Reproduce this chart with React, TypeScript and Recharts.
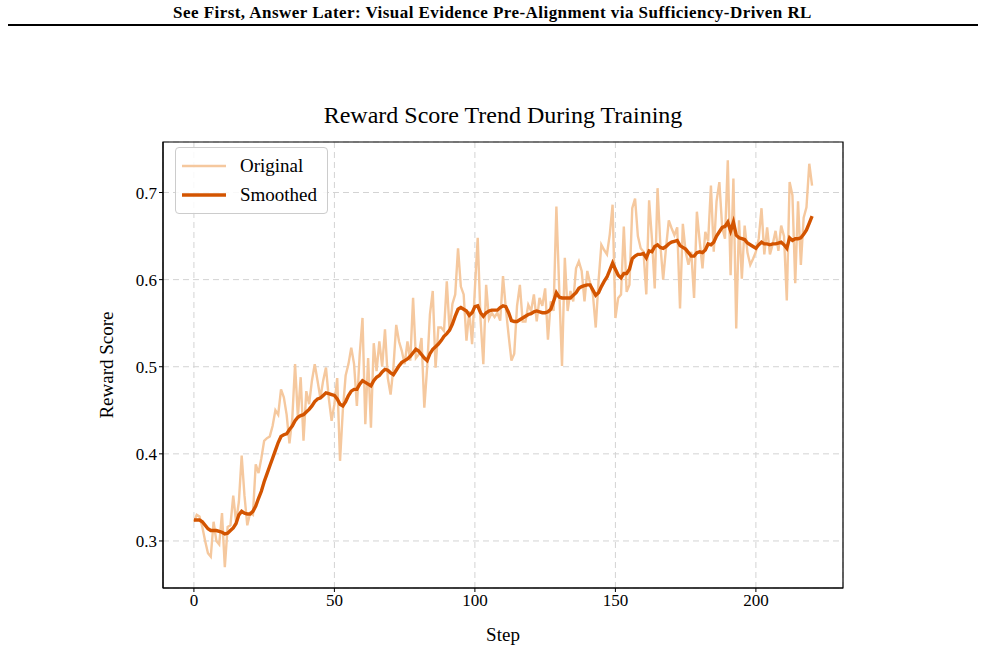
import React from 'react';
import { LineChart, Line, XAxis, YAxis, CartesianGrid, ReferenceArea } from 'recharts';

const pageTitle = 'See First, Answer Later: Visual Evidence Pre-Alignment via Sufficiency-Driven RL';
const chartTitle = 'Reward Score Trend During Training';
const xLabel = 'Step';
const yLabel = 'Reward Score';
const seriesNames = ['Original', 'Smoothed'];
const xTicks = [0, 50, 100, 150, 200];
const yTicks = [0.3, 0.4, 0.5, 0.6, 0.7];

const original = [
  0.322, 0.330, 0.328, 0.316, 0.300, 0.286, 0.282, 0.322, 0.300, 0.296,
  0.332, 0.270, 0.316, 0.318, 0.352, 0.322, 0.345, 0.398, 0.352, 0.318,
  0.332, 0.330, 0.388, 0.378, 0.395, 0.415, 0.418, 0.420, 0.432, 0.450,
  0.445, 0.474, 0.465, 0.445, 0.412, 0.440, 0.503, 0.442, 0.488, 0.415,
  0.472, 0.457, 0.484, 0.503, 0.484, 0.464, 0.484, 0.499, 0.464, 0.438,
  0.457, 0.487, 0.392, 0.450, 0.490, 0.503, 0.522, 0.503, 0.455, 0.514,
  0.556, 0.434, 0.510, 0.430, 0.527, 0.495, 0.529, 0.500, 0.543, 0.487,
  0.468, 0.499, 0.548, 0.529, 0.518, 0.503, 0.529, 0.507, 0.579, 0.510,
  0.514, 0.533, 0.453, 0.499, 0.560, 0.587, 0.499, 0.545, 0.545, 0.541,
  0.598, 0.541, 0.572, 0.583, 0.636, 0.592, 0.583, 0.530, 0.564, 0.526,
  0.590, 0.648, 0.555, 0.503, 0.594, 0.555, 0.562, 0.557, 0.562, 0.553,
  0.604, 0.567, 0.536, 0.507, 0.515, 0.570, 0.594, 0.552, 0.552, 0.571,
  0.564, 0.583, 0.552, 0.579, 0.570, 0.590, 0.531, 0.575, 0.564, 0.684,
  0.590, 0.501, 0.625, 0.564, 0.587, 0.575, 0.613, 0.621, 0.610, 0.575,
  0.610, 0.596, 0.583, 0.545, 0.598, 0.640, 0.634, 0.629, 0.652, 0.686,
  0.556, 0.579, 0.583, 0.661, 0.586, 0.594, 0.682, 0.693, 0.650, 0.636,
  0.632, 0.583, 0.691, 0.647, 0.590, 0.705, 0.640, 0.600, 0.636, 0.668,
  0.659, 0.651, 0.660, 0.567, 0.664, 0.632, 0.617, 0.632, 0.579, 0.678,
  0.644, 0.613, 0.655, 0.644, 0.708, 0.632, 0.690, 0.712, 0.660, 0.647,
  0.737, 0.605, 0.716, 0.544, 0.668, 0.601, 0.662, 0.631, 0.617, 0.624,
  0.632, 0.647, 0.682, 0.629, 0.660, 0.629, 0.641, 0.656, 0.633, 0.662,
  0.650, 0.576, 0.712, 0.697, 0.596, 0.690, 0.617, 0.671, 0.683, 0.733,
  0.708,
];

const smoothed = [
  0.324, 0.324, 0.324, 0.322, 0.318, 0.314, 0.312, 0.312, 0.312, 0.311,
  0.310, 0.308, 0.309, 0.312, 0.315, 0.320, 0.330, 0.334, 0.332, 0.331,
  0.331, 0.334, 0.340, 0.349, 0.357, 0.368, 0.377, 0.386, 0.395, 0.404,
  0.413, 0.420, 0.422, 0.423, 0.428, 0.432, 0.438, 0.442, 0.444, 0.445,
  0.448, 0.451, 0.455, 0.460, 0.463, 0.464, 0.467, 0.470, 0.469, 0.468,
  0.467, 0.463, 0.457, 0.455, 0.460, 0.467, 0.472, 0.474, 0.474, 0.480,
  0.484, 0.482, 0.480, 0.478, 0.484, 0.488, 0.490, 0.494, 0.497, 0.496,
  0.493, 0.491, 0.496, 0.501, 0.505, 0.507, 0.509, 0.512, 0.516, 0.520,
  0.518, 0.514, 0.510, 0.507, 0.515, 0.520, 0.523, 0.526, 0.530, 0.535,
  0.538, 0.542, 0.549, 0.558, 0.566, 0.568, 0.566, 0.564, 0.559, 0.562,
  0.569, 0.570, 0.562, 0.558, 0.562, 0.564, 0.565, 0.565, 0.565, 0.568,
  0.570, 0.569, 0.562, 0.553, 0.552, 0.552, 0.554, 0.556, 0.558, 0.560,
  0.561, 0.563, 0.564, 0.563, 0.562, 0.562, 0.563, 0.566, 0.575, 0.585,
  0.580, 0.579, 0.579, 0.579, 0.579, 0.582, 0.585, 0.590, 0.592, 0.593,
  0.594, 0.594, 0.588, 0.582, 0.585, 0.592, 0.598, 0.603, 0.611, 0.619,
  0.612, 0.605, 0.602, 0.607, 0.607, 0.612, 0.624, 0.627, 0.629, 0.629,
  0.630, 0.625, 0.633, 0.632, 0.638, 0.640, 0.637, 0.636, 0.638, 0.641,
  0.643, 0.644, 0.645, 0.639, 0.637, 0.635, 0.631, 0.627, 0.627, 0.631,
  0.632, 0.631, 0.634, 0.641, 0.640, 0.643, 0.650, 0.655, 0.660, 0.661,
  0.666, 0.656, 0.666, 0.651, 0.648, 0.647, 0.646, 0.642, 0.640, 0.638,
  0.636, 0.640, 0.643, 0.641, 0.641, 0.640, 0.641, 0.641, 0.642, 0.643,
  0.640, 0.636, 0.648, 0.645, 0.647, 0.647, 0.648, 0.652, 0.657, 0.665,
  0.673,
];

const data = original.map((v, i) => ({ step: i, original: v, smoothed: smoothed[i] }));

const SERIF = '"Liberation Serif", "Times New Roman", serif';
const ORIG_COLOR = '#f5c89e';
const SMOOTH_COLOR = '#d35400';
const X_DOMAIN: [number, number] = [-11, 231];
const Y_DOMAIN: [number, number] = [0.246, 0.758];

const LegendBox = () => (
  <div
    style={{
      position: 'absolute',
      left: 175,
      top: 147,
      border: '1px solid #cccccc',
      borderRadius: 4,
      background: 'rgba(255,255,255,0.85)',
      padding: '3px 10px 4px 6px',
      fontFamily: SERIF,
      fontSize: 19,
      color: '#000',
      lineHeight: '29px',
    }}
  >
    {[ORIG_COLOR, SMOOTH_COLOR].map((c, i) => (
      <div key={i} style={{ display: 'flex', alignItems: 'center' }}>
        <svg width={44} height={10} style={{ marginRight: 14 }}>
          <line x1={0} y1={5} x2={44} y2={5} stroke={c} strokeWidth={i === 0 ? 2.5 : 3.5} />
        </svg>
        <span>{seriesNames[i]}</span>
      </div>
    ))}
  </div>
);

export default function App() {
  return (
    <div style={{ position: 'absolute', left: 0, top: 0, width: 985, height: 668, background: '#fff', overflow: 'hidden' }}>
      <div
        style={{
          position: 'absolute', left: 0, top: 3, width: 985, textAlign: 'center',
          fontFamily: SERIF, fontWeight: 'bold', fontSize: 17, letterSpacing: 0.45, color: '#000',
        }}
      >
        {pageTitle}
      </div>
      <div style={{ position: 'absolute', left: 8, top: 24, width: 970, height: 2, background: '#000' }} />
      <div
        style={{
          position: 'absolute', left: 163, top: 102, width: 680, textAlign: 'center',
          fontFamily: SERIF, fontSize: 24, color: '#000',
        }}
      >
        {chartTitle}
      </div>
      <div
        style={{
          position: 'absolute', left: 163, top: 624, width: 680, textAlign: 'center',
          fontFamily: SERIF, fontSize: 19, color: '#000',
        }}
      >
        {xLabel}
      </div>
      <div
        style={{
          position: 'absolute', left: 108, top: 365, width: 200, height: 24, marginLeft: -100, marginTop: -12,
          textAlign: 'center', fontFamily: SERIF, fontSize: 19, color: '#000', transform: 'rotate(-90deg)',
        }}
      >
        {yLabel}
      </div>
      <div style={{ position: 'absolute', left: 0, top: 0 }}>
        <LineChart width={985} height={668} data={data} margin={{ top: 142, right: 142, left: 103, bottom: 50 }}>
          <CartesianGrid stroke="#d3d3d3" strokeDasharray="6 4" strokeWidth={1} />
          <XAxis
            type="number"
            dataKey="step"
            domain={X_DOMAIN}
            ticks={xTicks}
            allowDataOverflow
            height={30}
            tickSize={4}
            tickLine={{ stroke: '#000' }}
            axisLine={{ stroke: '#000' }}
            tick={{ fill: '#000', fontSize: 17, fontFamily: SERIF }}
          />
          <YAxis
            type="number"
            domain={Y_DOMAIN}
            ticks={yTicks}
            allowDataOverflow
            width={60}
            tickSize={4}
            tickLine={{ stroke: '#000' }}
            axisLine={{ stroke: '#000' }}
            tickFormatter={(v: number) => v.toFixed(1)}
            tick={{ fill: '#000', fontSize: 17, fontFamily: SERIF }}
          />
          <ReferenceArea
            x1={X_DOMAIN[0]}
            x2={X_DOMAIN[1]}
            y1={Y_DOMAIN[0]}
            y2={Y_DOMAIN[1]}
            fill="none"
            stroke="#000"
            strokeWidth={1.2}
            ifOverflow="visible"
          />
          <Line
            type="linear"
            dataKey="original"
            name={seriesNames[0]}
            stroke={ORIG_COLOR}
            strokeWidth={2.4}
            dot={false}
            isAnimationActive={false}
          />
          <Line
            type="linear"
            dataKey="smoothed"
            name={seriesNames[1]}
            stroke={SMOOTH_COLOR}
            strokeWidth={3.4}
            dot={false}
            isAnimationActive={false}
          />
        </LineChart>
      </div>
      <LegendBox />
    </div>
  );
}
